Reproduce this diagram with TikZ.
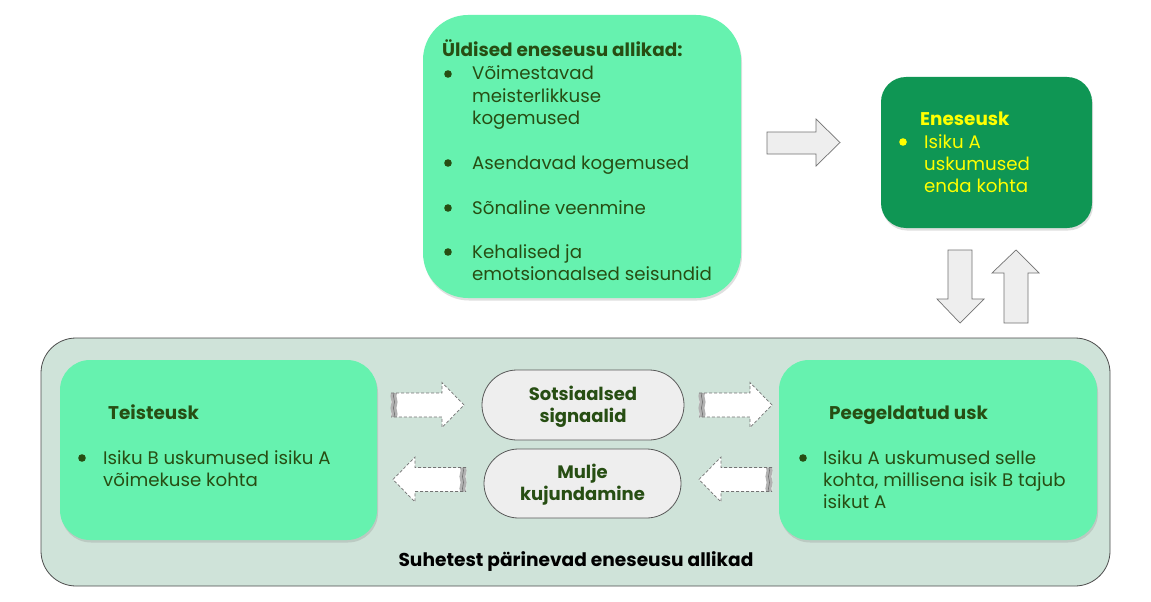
\documentclass[tikz,border=0pt]{standalone}
\usepackage{fontspec}
\setmainfont{Poppins}
\usetikzlibrary{shadows}
\definecolor{lgreen}{HTML}{66F2AF}
\definecolor{dgreen}{HTML}{0F9654}
\definecolor{bgreen}{HTML}{CFE3D9}
\definecolor{pgray}{HTML}{EEEEEE}
\definecolor{tgreen}{HTML}{274E13}
\definecolor{yel}{HTML}{FFFF00}
\tikzset{
  box/.style={inner sep=0, outer sep=0, draw=none, fill=lgreen,
    drop shadow={shadow xshift=1pt, shadow yshift=-2.5pt, opacity=0.25}},
  pill/.style={inner sep=0, outer sep=0, draw=black!65, line width=0.8pt, fill=pgray},
  txt/.style={inner sep=0, anchor=base west, text=tgreen, font=\fontsize{18.2}{21}\selectfont},
  btxt/.style={txt, font=\fontsize{18.4}{21}\selectfont\bfseries},
  ctxt/.style={txt, anchor=base, font=\fontsize{18}{21}\selectfont\bfseries},
  garrow/.style={fill=pgray, draw=black!55, line width=0.7pt, line join=miter},
  pics/dashright/.style={code={
    \fill[white] (0,-12) -- (51,-12) -- (51,-22.5) -- (73,0) -- (51,22.5) -- (51,12) -- (0,12) -- cycle;
    \fill[black!30] (0,-12) .. controls (-2,-8) and (2,-4) .. (0,0) .. controls (-2,4) and (2,8) .. (0,12)
       -- (6,12) .. controls (8,8) and (4,4) .. (6,0) .. controls (8,-4) and (4,-8) .. (6,-12) -- cycle;
    \draw[black!55, line width=0.6pt] (3,-12) .. controls (1,-8) and (5,-4) .. (3,0) .. controls (1,4) and (5,8) .. (3,12);
    \draw[black!55, dashed, line width=0.7pt, dash pattern=on 3pt off 2pt] (0,-12) -- (51,-12) -- (51,-22.5) -- (73,0) -- (51,22.5) -- (51,12) -- (0,12);
  }}
}
\begin{document}
\begin{tikzpicture}[x=1pt,y=-1pt]
\useasboundingbox (0,0) rectangle (1151,602);
\fill[white] (0,0) rectangle (1151,602);

% top general sources box
\node[box, minimum width=318pt, minimum height=283pt, rounded corners=45pt] (top) at (582,156.5) {};
\node[btxt] (th) at (442,57) {Üldised eneseusu allikad:};
\foreach \y in {74,163,208,252} \fill[tgreen] (448,\y) circle (3.8);
\node[txt] (t1) at (472,80) {Võimestavad};
\node[txt] (t2) at (472,102) {meisterlikkuse};
\node[txt] (t3) at (472,124) {kogemused};
\node[txt] (t4) at (472,169) {Asendavad kogemused};
\node[txt] (t5) at (472,214) {Sõnaline veenmine};
\node[txt] (t6) at (472,258) {Kehalised ja};
\node[txt] (t7) at (472,280) {emotsionaalsed seisundid};

% Eneseusk box
\node[box, fill=dgreen, minimum width=211pt, minimum height=151pt, rounded corners=25pt] (ene) at (986.5,152.5) {};
\node[btxt, text=yel] (eh) at (920,125) {Eneseusk};
\fill[yel] (903,142) circle (3.8);
\node[txt, text=yel] (e1) at (924,148) {Isiku A};
\node[txt, text=yel] (e2) at (924,170) {uskumused};
\node[txt, text=yel] (e3) at (924,192) {enda kohta};

% grey block arrows
\draw[garrow] (767,132) -- (816,132) -- (816,119) -- (840,142.5) -- (816,166) -- (816,154) -- (767,154) -- cycle;
\draw[garrow] (948,250) -- (972,250) -- (972,299) -- (984,299) -- (960,323) -- (937,299) -- (948,299) -- cycle;
\draw[garrow] (1016,250) -- (1039,273) -- (1028,273) -- (1028,323) -- (1004,323) -- (1004,273) -- (992,273) -- cycle;

% bottom container
\node[inner sep=0, outer sep=0, fill=bgreen, draw=black!70, line width=0.8pt, rounded corners=35pt,
  minimum width=1069pt, minimum height=248pt] (bot) at (575.5,462) {};
\node[ctxt, text=black, font=\fontsize{18.6}{21}\selectfont\bfseries] (bl) at (576,566) {Suhetest pärinevad eneseusu allikad};

% Teisteusk
\node[box, minimum width=317pt, minimum height=180pt, rounded corners=30pt] (tei) at (218.5,450) {};
\node[btxt] (teh) at (108,419) {Teisteusk};
\fill[tgreen] (82,458) circle (3.8);
\node[txt] (te1) at (103,464) {Isiku B uskumused isiku A};
\node[txt] (te2) at (103,486) {võimekuse kohta};

% Peegeldatud usk
\node[box, minimum width=318pt, minimum height=180pt, rounded corners=30pt] (pee) at (938,450) {};
\node[btxt] (peh) at (829,419) {Peegeldatud usk};
\fill[tgreen] (803,458) circle (3.8);
\node[txt] (pe1) at (823,464) {Isiku A uskumused selle};
\node[txt] (pe2) at (823,486) {kohta, millisena isik B tajub};
\node[txt] (pe3) at (823,508) {isikut A};

% pills
\node[pill, minimum width=202pt, minimum height=70pt, rounded corners=35pt] (sots) at (583,405) {};
\node[ctxt] (s1) at (583,400) {Sotsiaalsed};
\node[ctxt] (s2) at (583,422) {signaalid};
\node[pill, minimum width=197pt, minimum height=69pt, rounded corners=34.5pt] (mul) at (582.5,483.5) {};
\node[ctxt] (m1) at (582.5,478) {Mulje};
\node[ctxt] (m2) at (582.5,500) {kujundamine};

% dashed arrows
\pic at (391,405) {dashright};
\pic at (699,405) {dashright};
\pic[xscale=-1] at (466,479.5) {dashright};
\pic[xscale=-1] at (772,479.5) {dashright};
\end{tikzpicture}
\end{document}
